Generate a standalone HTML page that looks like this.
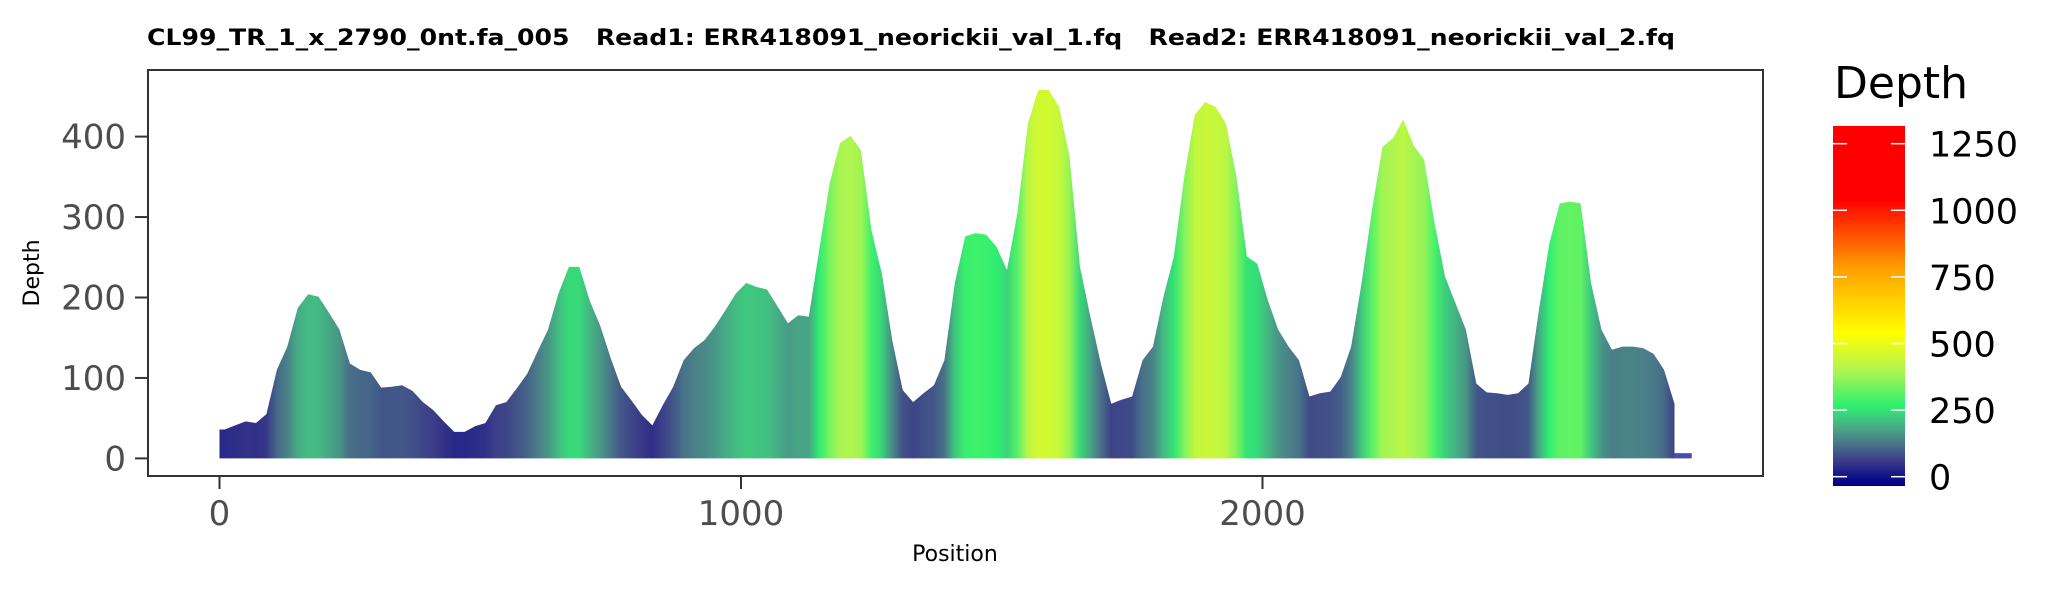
<!DOCTYPE html>
<html><head><meta charset="utf-8"><style>
html,body{margin:0;padding:0;background:#fff;}
svg{display:block;font-family:"DejaVu Sans","Liberation Sans",sans-serif;}
.pre{white-space:pre;}
</style></head><body>
<svg id="chart" width="2066" height="590" viewBox="0 0 2066 590" xmlns="http://www.w3.org/2000/svg">
<defs>
<linearGradient id="legGrad" x1="0" y1="1" x2="0" y2="0"></linearGradient>
<linearGradient id="areaGrad" gradientUnits="userSpaceOnUse" x1="219.5" y1="0" x2="1674.5" y2="0"></linearGradient>
</defs>
<text class="pre" x="147" y="45" font-size="22" font-weight="bold" textLength="1528" lengthAdjust="spacingAndGlyphs" xml:space="preserve">CL99_TR_1_x_2790_0nt.fa_005   Read1: ERR418091_neorickii_val_1.fq   Read2: ERR418091_neorickii_val_2.fq</text>
<g id="bars"></g>
<rect x="148" y="70" width="1615" height="406" fill="none" stroke="#333" stroke-width="2"/>
<g id="yaxis"></g>
<g id="xaxis"></g>
<text x="955" y="561" font-size="22" text-anchor="middle">Position</text>
<text transform="translate(39,273) rotate(-90)" font-size="22" text-anchor="middle">Depth</text>
<g id="legend">
<text x="1834" y="98" font-size="44">Depth</text>
<rect x="1833" y="126" width="72" height="360" fill="url(#legGrad)"/>
</g>
</svg>
<script>
const binWidth = 20;
const depths = [
36,41,46,44,55,110,139,187,204,201,
181,160,118,110,107,88,89,91,84,70,
60,46,33,33,40,44,66,70,87,105,
133,160,205,238,238,196,165,125,89,72,
54,41,66,89,122,137,147,164,184,205,
218,213,210,189,168,178,176,259,342,392,
401,383,284,230,147,85,70,81,91,122,
218,276,280,278,263,234,305,416,458,458,
437,375,238,176,118,68,73,77,122,139,
201,251,350,427,443,437,416,350,251,242,
197,160,139,122,77,81,83,101,139,218,
309,387,398,421,389,371,292,226,193,160,
93,82,81,79,81,93,184,267,317,319,
317,218,160,135,139,139,137,130,110,68];
const seqLength = 2790;
const tailStart = 2790, tailEnd = 2823, tailDepth = 4;
const yTicks = [0,100,200,300,400];
const xTicks = [0,1000,2000];
const legendTicks = [0,250,500,750,1000,1250];

const NS = "http://www.w3.org/2000/svg";
const X = p => 219.5 + 0.5215 * p;
const Y = d => 458.4 - 0.8045 * d;
const L = v => 476.7 - 0.2664 * v;
const stops = [[-40,[0,0,128]],[0,[16,16,138]],[60,[60,60,136]],[130,[74,122,136]],[200,[69,184,132]],[265,[46,240,112]],[400,[176,245,80]],[540,[255,255,0]],[770,[255,165,0]],[1040,[255,0,0]],[1400,[255,0,0]]];
function col(v){
  for(let i=1;i<stops.length;i++){
    if(v<=stops[i][0]){
      const a=stops[i-1],b=stops[i],t=(v-a[0])/(b[0]-a[0]);
      const c=a[1].map((x,k)=>Math.round(x+(b[1][k]-x)*t));
      return `rgb(${c[0]},${c[1]},${c[2]})`;
    }
  }
  return "rgb(255,0,0)";
}
function mk(tag, attrs, parent){
  const e=document.createElementNS(NS,tag);
  for(const k in attrs) e.setAttribute(k,attrs[k]);
  parent.appendChild(e); return e;
}
const bars=document.getElementById('bars');
const ag=document.getElementById('areaGrad');
const x0=X(0), x1=X(seqLength);
let d=`M${x0},${Y(0)} L${x0},${Y(depths[0])}`;
depths.forEach((v,i)=>{
  const p=Math.min(seqLength, i*binWidth+binWidth/2);
  d+=` L${X(p)},${Y(v)}`;
  mk('stop',{offset:((X(p)-x0)/(x1-x0)).toFixed(4),'stop-color':col(v)},ag);
});
d+=` L${x1},${Y(depths[depths.length-1])} L${x1},${Y(0)} Z`;
const area=mk('path',{d:d,fill:'url(#areaGrad)'},bars);


const tail=mk('rect',{x:X(tailStart),y:Y(tailDepth)-2,width:X(tailEnd)-X(tailStart),height:Y(0)-Y(tailDepth)+2,fill:'#4a4ab0'},bars);



const ya=document.getElementById('yaxis');
yTicks.forEach(v=>{
  const t=mk('line',{x1:135,x2:148,y1:Y(v),y2:Y(v),stroke:'#333','stroke-width':2},ya);
  
  
  const l=mk('text',{x:126,y:Y(v)+12,'font-size':34,'text-anchor':'end',fill:'#4d4d4d'},ya);
  l.textContent=v;
  
  
});
const xa=document.getElementById('xaxis');
xTicks.forEach(v=>{
  const t=mk('line',{x1:X(v),x2:X(v),y1:476,y2:489,stroke:'#333','stroke-width':2},xa);
  
  
  const l=mk('text',{x:X(v),y:525,'font-size':34,'text-anchor':'middle',fill:'#4d4d4d'},xa);
  l.textContent=v;
  
  
});
const grad=document.getElementById('legGrad');
const vBot=(476.7-486)/0.2664, vTop=(476.7-126)/0.2664;
for(let v=Math.ceil(vBot); v<=vTop; v+=10){
  mk('stop',{offset:((v-vBot)/(vTop-vBot)).toFixed(4),'stop-color':col(v)},grad);
}
const lg=document.getElementById('legend');
legendTicks.forEach(v=>{
  const a=mk('line',{x1:1833,x2:1847,y1:L(v),y2:L(v),stroke:'#fff','stroke-width':1.5},lg);
  
  
  const b=mk('line',{x1:1891,x2:1905,y1:L(v),y2:L(v),stroke:'#fff','stroke-width':1.5},lg);
  
  
  const l=mk('text',{x:1929,y:L(v)+13,'font-size':35,fill:'#000'},lg);
  l.textContent=v;
  
  
});
</script>
</body></html>
